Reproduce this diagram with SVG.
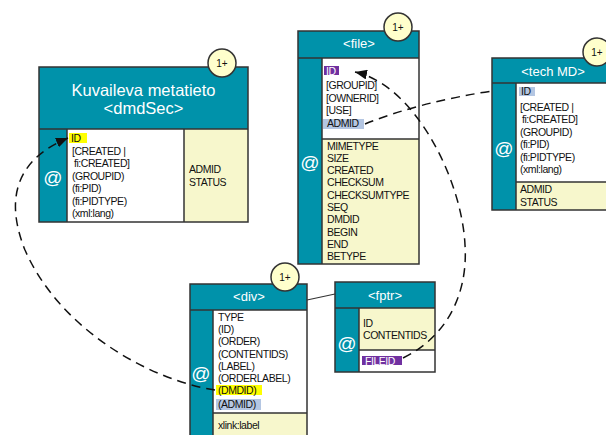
<svg xmlns="http://www.w3.org/2000/svg" width="606" height="435" viewBox="0 0 606 435">
<defs>
<style>
.hd{fill:#0092AA;stroke:none}
.wh{fill:#FFFFFF;stroke:none}
.ye{fill:#F7F7CC;stroke:none}
.bd{fill:none;stroke:#333333;stroke-width:1.5}
.ln{stroke:#333333;stroke-width:1.5}
.t{font-family:"Liberation Sans",Arial,sans-serif;font-size:10.5px;fill:#111111;letter-spacing:-0.45px}
.tw{font-family:"Liberation Sans",Arial,sans-serif;font-size:10.5px;fill:#FFFFFF;letter-spacing:-0.45px}
.h{font-family:"Liberation Sans",Arial,sans-serif;font-size:13px;fill:#FFFFFF;text-anchor:middle}
.at{font-family:"Liberation Sans",Arial,sans-serif;font-size:19px;fill:#FFFFFF;text-anchor:middle}
.c{fill:#FFFFCC;stroke:#333333;stroke-width:1.5}
.ct{font-family:"Liberation Sans",Arial,sans-serif;font-size:10px;fill:#111111;text-anchor:middle}
.hy{fill:#FFFF00}
.hp{fill:#7030A0}
.hb{fill:#B4C6E2}
.dash{fill:none;stroke:#111111;stroke-width:1.5;stroke-dasharray:9 6}
</style>
<marker id="arr" viewBox="0 0 12 10" refX="12" refY="5" markerWidth="12" markerHeight="10" markerUnits="userSpaceOnUse" orient="auto">
<path d="M0,0 L12,5 L0,10 Z" fill="#111111"/>
</marker>
</defs>
<rect width="606" height="435" fill="#FFFFFF"/>

<g id="dmdSec">
<rect class="hd" x="39" y="67" width="209" height="62"/>
<rect class="hd" x="39" y="129" width="28" height="93"/>
<rect class="wh" x="67" y="129" width="117" height="93"/>
<rect class="ye" x="184" y="129" width="64" height="93"/>
<rect class="bd" x="39" y="67" width="209" height="155"/>
<line class="ln" x1="39" y1="129" x2="248" y2="129"/>
<line class="ln" x1="67" y1="129" x2="67" y2="222"/>
<line class="ln" x1="184" y1="129" x2="184" y2="222"/>
<text class="h" x="143.5" y="96" style="font-size:16.5px">Kuvaileva metatieto</text>
<text class="h" x="143.5" y="114" style="font-size:16.5px">&lt;dmdSec&gt;</text>
<text class="at" x="53" y="184">@</text>
<rect class="hy" x="69" y="133" width="18" height="10"/>
<text class="t" x="71" y="142">ID</text>
<text class="t" x="72" y="154.5">[CREATED |</text>
<text class="t" x="74" y="167">fi:CREATED]</text>
<text class="t" x="72" y="179.5">(GROUPID)</text>
<text class="t" x="72" y="192">(fi:PID)</text>
<text class="t" x="72" y="204.5">(fi:PIDTYPE)</text>
<text class="t" x="72" y="217">(xml:lang)</text>
<text class="t" x="189" y="172.5">ADMID</text>
<text class="t" x="189" y="185.5">STATUS</text>
<circle class="c" cx="222" cy="63" r="14"/>
<text class="ct" x="222" y="66.5">1+</text>
</g>

<g id="file">
<rect class="hd" x="298" y="31" width="121" height="27"/>
<rect class="hd" x="298" y="58" width="24" height="206"/>
<rect class="wh" x="322" y="58" width="97" height="81"/>
<rect class="ye" x="322" y="139" width="97" height="125"/>
<rect class="bd" x="298" y="31" width="121" height="233"/>
<line class="ln" x1="298" y1="58" x2="419" y2="58"/>
<line class="ln" x1="322" y1="58" x2="322" y2="264"/>
<line class="ln" x1="322" y1="139" x2="419" y2="139"/>
<text class="h" x="359" y="48">&lt;file&gt;</text>
<text class="at" x="310" y="169">@</text>
<rect class="hp" x="324" y="66" width="15" height="9"/>
<text class="tw" x="326" y="74.5">ID</text>
<text class="t" x="326" y="89">[GROUPID]</text>
<text class="t" x="326" y="101.5">[OWNERID]</text>
<text class="t" x="326" y="114">[USE]</text>
<rect class="hb" x="323" y="119" width="41" height="10"/>
<text class="t" x="327" y="127">ADMID</text>
<text class="t" x="327" y="149.5">MIMETYPE</text>
<text class="t" x="327" y="161.5">SIZE</text>
<text class="t" x="327" y="174">CREATED</text>
<text class="t" x="327" y="186">CHECKSUM</text>
<text class="t" x="327" y="198.5">CHECKSUMTYPE</text>
<text class="t" x="327" y="210.5">SEQ</text>
<text class="t" x="327" y="223">DMDID</text>
<text class="t" x="327" y="235.5">BEGIN</text>
<text class="t" x="327" y="248">END</text>
<text class="t" x="327" y="260">BETYPE</text>
<circle class="c" cx="398" cy="27" r="14"/>
<text class="ct" x="398" y="30.5">1+</text>
</g>

<g id="techMD">
<rect class="hd" x="492" y="58" width="122" height="25"/>
<rect class="hd" x="492" y="83" width="24" height="127"/>
<rect class="wh" x="516" y="83" width="98" height="99"/>
<rect class="ye" x="516" y="182" width="98" height="28"/>
<rect class="bd" x="492" y="58" width="122" height="152"/>
<line class="ln" x1="492" y1="83" x2="614" y2="83"/>
<line class="ln" x1="516" y1="83" x2="516" y2="210"/>
<line class="ln" x1="516" y1="182" x2="614" y2="182"/>
<text class="h" x="553" y="76">&lt;tech MD&gt;</text>
<text class="at" x="504" y="155">@</text>
<rect class="hb" x="519" y="87" width="16" height="9"/>
<text class="t" x="521" y="95">ID</text>
<text class="t" x="520" y="110.5">[CREATED |</text>
<text class="t" x="522" y="123">fi:CREATED]</text>
<text class="t" x="520" y="135.5">(GROUPID)</text>
<text class="t" x="520" y="148">(fi:PID)</text>
<text class="t" x="520" y="160.5">(fi:PIDTYPE)</text>
<text class="t" x="520" y="172.5">(xml:lang)</text>
<text class="t" x="520" y="192.5">ADMID</text>
<text class="t" x="520" y="205.5">STATUS</text>
<circle class="c" cx="597" cy="52" r="14"/>
<text class="ct" x="597" y="55.5">1+</text>
</g>

<g id="div">
<rect class="hd" x="190" y="284" width="117" height="26"/>
<rect class="hd" x="190" y="310" width="23" height="130"/>
<rect class="wh" x="213" y="310" width="94" height="103"/>
<rect class="ye" x="213" y="413" width="94" height="27"/>
<rect class="bd" x="190" y="284" width="117" height="160"/>
<line class="ln" x1="190" y1="310" x2="307" y2="310"/>
<line class="ln" x1="213" y1="310" x2="213" y2="440"/>
<line class="ln" x1="213" y1="413" x2="307" y2="413"/>
<text class="h" x="249" y="301">&lt;div&gt;</text>
<text class="at" x="201" y="380">@</text>
<text class="t" x="218" y="320.5">TYPE</text>
<text class="t" x="218" y="332.5">(ID)</text>
<text class="t" x="218" y="344.5">(ORDER)</text>
<text class="t" x="218" y="357.5">(CONTENTIDS)</text>
<text class="t" x="218" y="369.5">(LABEL)</text>
<text class="t" x="218" y="381.5">(ORDERLABEL)</text>
<rect class="hy" x="216" y="385" width="46" height="10"/>
<text class="t" x="218" y="393.5">(DMDID)</text>
<rect class="hb" x="216" y="399" width="45" height="11"/>
<text class="t" x="218" y="407.5">(ADMID)</text>
<text class="t" x="218" y="428.5">xlink:label</text>
<circle class="c" cx="285" cy="277" r="14"/>
<text class="ct" x="285" y="280.5">1+</text>
</g>

<g id="fptr">
<rect class="hd" x="335" y="282" width="100" height="26"/>
<rect class="hd" x="335" y="308" width="24" height="64"/>
<rect class="ye" x="359" y="308" width="76" height="42"/>
<rect class="wh" x="359" y="350" width="76" height="22"/>
<rect class="bd" x="335" y="282" width="100" height="90"/>
<line class="ln" x1="335" y1="308" x2="435" y2="308"/>
<line class="ln" x1="359" y1="308" x2="359" y2="372"/>
<line class="ln" x1="359" y1="350" x2="435" y2="350"/>
<text class="h" x="385" y="300">&lt;fptr&gt;</text>
<text class="at" x="347" y="350">@</text>
<text class="t" x="363" y="326.5">ID</text>
<text class="t" x="363" y="338.5">CONTENTIDS</text>
<rect class="hp" x="362" y="356" width="40" height="9"/>
<text class="tw" x="365" y="364.5">FILEID</text>
</g>

<g id="connectors">
<line x1="307" y1="300" x2="335" y2="294" stroke="#333333" stroke-width="1.2"/>
<path class="dash" d="M365,124 Q420,102 492,91"/>
<path class="dash" d="M403,358 C450,335 468,290 465,245 C462,180 415,85 355,72" marker-end="url(#arr)"/>
<path class="dash" d="M215,390 C150,380 60,330 25,250 C5,200 15,160 68,138" marker-end="url(#arr)"/>
</g>
</svg>
